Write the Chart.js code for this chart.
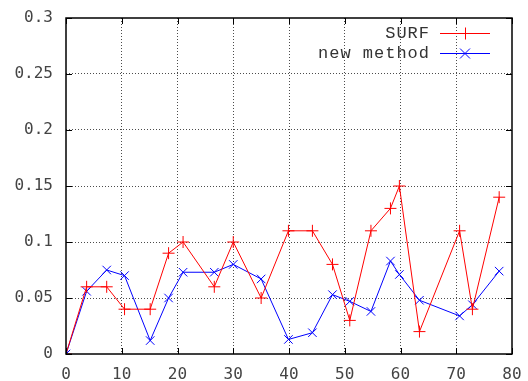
<!DOCTYPE html>
<html>
<head>
<meta charset="utf-8">
<script src="https://cdn.jsdelivr.net/npm/chart.js@4"></script>
<style>
  html, body { margin: 0; padding: 0; background: #fff; }
  #grafico { display: block; }
</style>
</head>
<body>
<canvas id="grafico" width="528" height="381"></canvas>
<script>
// posicoes no eixo x (iguais para as duas curvas)
const posicoes = [0, 3.7, 7.3, 10.5, 15.1, 18.4, 21.0, 26.6, 30.0, 35.0, 39.9, 44.2, 47.8, 50.9, 54.7, 58.2, 59.8, 63.4, 70.6, 72.9, 77.7];
const surf = [0, 0.06, 0.06, 0.04, 0.04, 0.09, 0.1, 0.06, 0.1, 0.05, 0.11, 0.11, 0.08, 0.03, 0.11, 0.13, 0.15, 0.02, 0.11, 0.04, 0.14];
const novoMetodo = [0, 0.056, 0.075, 0.07, 0.012, 0.05, 0.073, 0.073, 0.08, 0.067, 0.013, 0.019, 0.053, 0.047, 0.038, 0.083, 0.071, 0.048, 0.034, 0.044, 0.074];
const ticksX = [0, 10, 20, 30, 40, 50, 60, 70, 80];
const ticksY = [0, 0.05, 0.1, 0.15, 0.2, 0.25, 0.3];

const corSurf = '#ff0000';
const corNovo = '#0000ff';

function pontos(ys) {
    return posicoes.map((x, i) => ({ x: x, y: ys[i] }));
}

// grade pontilhada, sem linha nas bordas
function corGrade(ctx) {
    let t = ctx.tick ? ctx.tick.value : null;
    let s = ctx.scale;
    if (t === s.min || t === s.max) return 'rgba(0,0,0,0)';
    return 'rgba(0,0,0,0.7)';
}

// moldura estilo gnuplot com marcas para dentro e legenda a direita
const moldura = {
    id: 'moldura',
    afterDraw(chart) {
        let c = chart.ctx;
        let a = chart.chartArea;
        let sx = chart.scales.x, sy = chart.scales.y;
        c.save();
        c.strokeStyle = '#000';
        c.lineWidth = 1.5;
        c.strokeRect(a.left, a.top, a.right - a.left, a.bottom - a.top);
        c.lineWidth = 1;
        c.beginPath();
        ticksX.forEach(v => {
            let px = Math.round(sx.getPixelForValue(v)) + 0.5;
            c.moveTo(px, a.bottom); c.lineTo(px, a.bottom - 6);
            c.moveTo(px, a.top); c.lineTo(px, a.top + 6);
        });
        ticksY.forEach(v => {
            let py = Math.round(sy.getPixelForValue(v)) + 0.5;
            c.moveTo(a.left, py); c.lineTo(a.left + 6, py);
            c.moveTo(a.right, py); c.lineTo(a.right - 6, py);
        });
        c.stroke();
        c.restore();

        // legenda
        let itens = [['SURF', corSurf, '+'], ['new method', corNovo, 'x']];
        itens.forEach(([txt, cor, marca], i) => {
            let y = 33.5 + i * 20;
            c.save();
            c.font = '17px "Liberation Mono"';
            c.letterSpacing = '1px';
            c.textAlign = 'right';
            c.textBaseline = 'middle';
            c.fillStyle = '#333';
            c.fillText(txt, 430, y);
            c.restore();

            c.save();
            c.strokeStyle = cor;
            c.lineWidth = 1;
            c.beginPath();
            c.moveTo(440, y); c.lineTo(490, y);
            if (marca === '+') {
                c.moveTo(465.5, y - 6); c.lineTo(465.5, y + 6);
            } else {
                c.moveTo(460, y - 5); c.lineTo(470, y + 5);
                c.moveTo(460, y + 5); c.lineTo(470, y - 5);
            }
            c.stroke();
            c.restore();
        });
    }
};

const fonteTicks = { family: '"DejaVu Sans Mono"', size: 16 };

let ctx = document.getElementById("grafico").getContext("2d");
window.myChart = new Chart(ctx, {
    type: 'line',
    data: {
        datasets: [{
            label: 'SURF',
            data: pontos(surf),
            borderColor: corSurf,
            backgroundColor: corSurf,
            borderWidth: 1,
            pointStyle: 'cross',
            pointRadius: 6,
            pointBorderWidth: 1,
            tension: 0
        }, {
            label: 'new method',
            data: pontos(novoMetodo),
            borderColor: corNovo,
            backgroundColor: corNovo,
            borderWidth: 1,
            pointStyle: 'crossRot',
            pointRadius: 6,
            pointBorderWidth: 1,
            tension: 0
        }]
    },
    options: {
        responsive: false,
        animation: false,
        layout: { padding: { left: 0, right: 16, top: 18, bottom: 0 } },
        scales: {
            x: {
                type: 'linear',
                min: 0,
                max: 80,
                // sem folga extra para os rotulos das pontas
                afterFit: s => { s.height = 27; s.paddingLeft = 0; s.paddingRight = 0; },
                afterBuildTicks: s => { s.ticks = ticksX.map(v => ({ value: v })); },
                grid: { color: corGrade, drawTicks: false },
                border: { display: false, dash: [1, 2] },
                ticks: { padding: 11, color: '#444', font: fonteTicks, maxRotation: 0 }
            },
            y: {
                min: 0,
                max: 0.3,
                afterFit: s => { s.width = 66; s.paddingTop = 0; s.paddingBottom = 0; },
                afterBuildTicks: s => { s.ticks = ticksY.map(v => ({ value: v })); },
                grid: { color: corGrade, drawTicks: false },
                border: { display: false, dash: [1, 2] },
                ticks: {
                    padding: 13,
                    color: '#444',
                    font: fonteTicks,
                    callback: v => String(Math.round(v * 100) / 100)
                }
            }
        },
        plugins: {
            legend: { display: false },
            tooltip: { enabled: false }
        }
    },
    plugins: [moldura]
});
</script>
</body>
</html>
